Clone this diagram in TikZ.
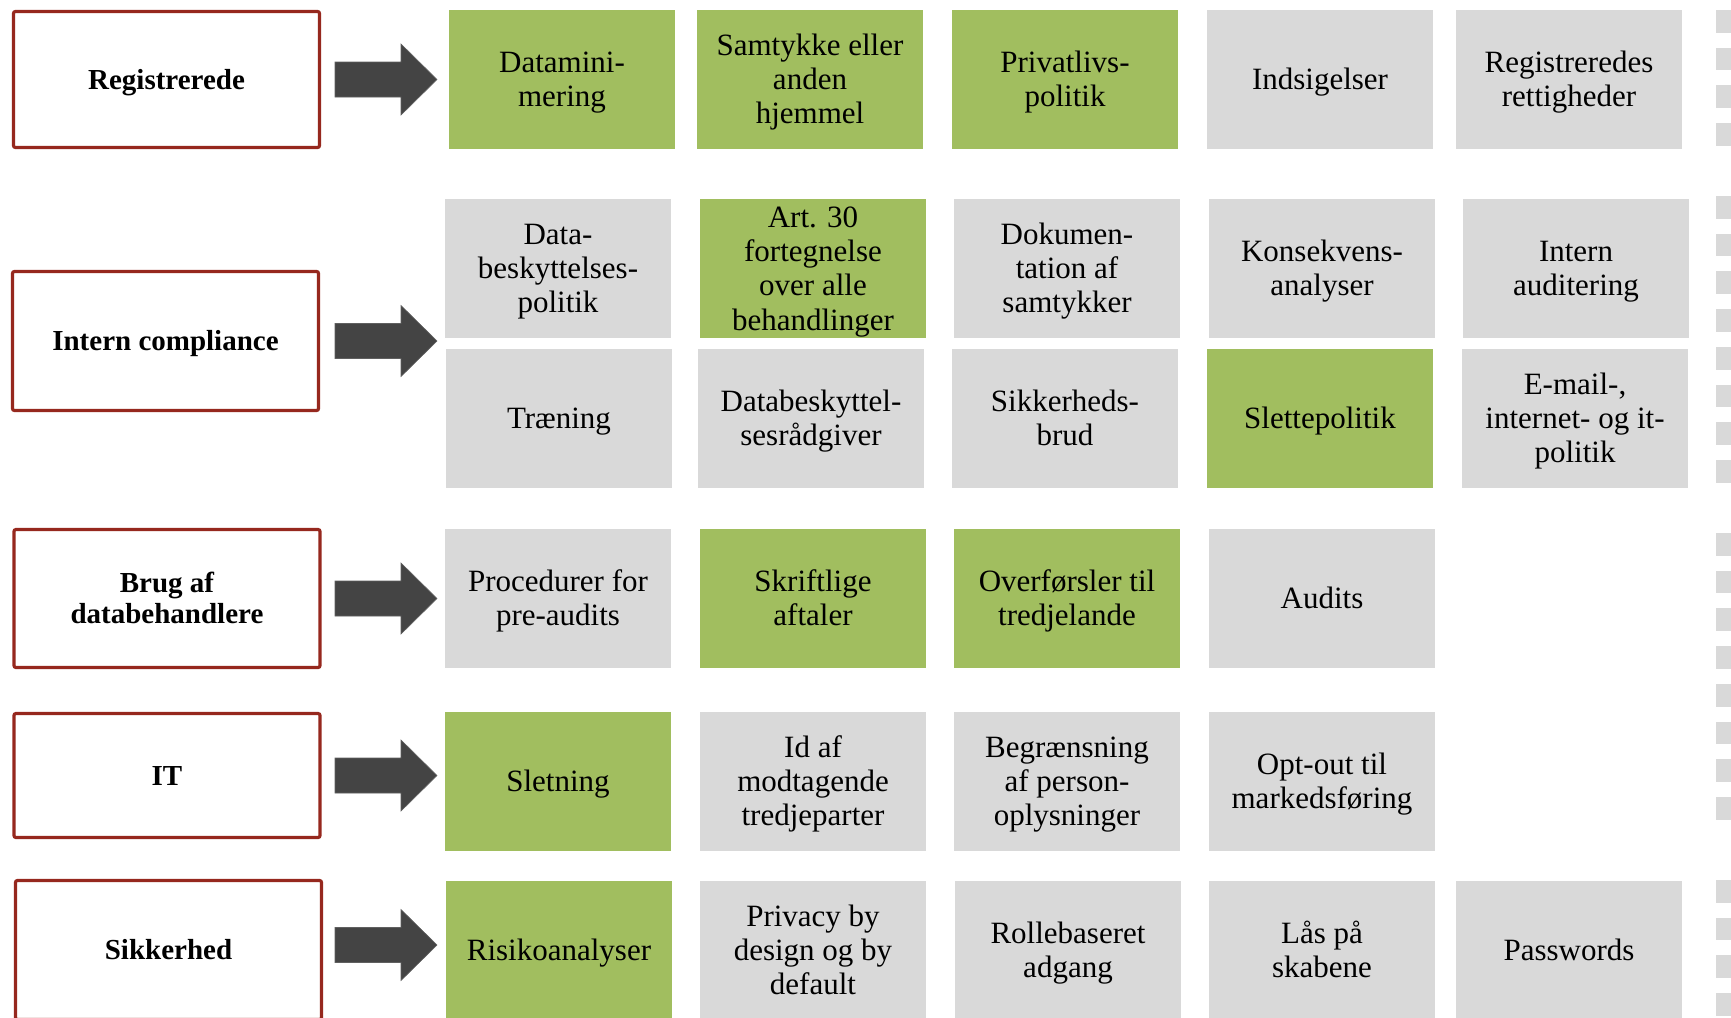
\documentclass[tikz,border=0pt]{standalone}
\usepackage{fontspec}
\setmainfont{Liberation Serif}
\usepackage{tikz}
\usetikzlibrary{positioning}
\definecolor{cellgreen}{RGB}{161,190,95}
\definecolor{cellgray}{RGB}{217,217,217}
\definecolor{frameRed}{RGB}{150,40,30}
\definecolor{arrowGray}{RGB}{68,68,68}
% text block set a little lower than the middle, as in the slide
\newcommand{\celltext}[1]{\raisebox{0pt}[\dimexpr\height+1.7pt\relax][\dimexpr\depth-1.7pt\relax]{\begin{tabular}{@{}c@{}}#1\end{tabular}}}
\tikzset{
  cell/.style={anchor=north west, inner sep=0pt, outer sep=0pt, minimum width=113pt,
    minimum height=69.5pt, align=center, font=\fontsize{15.5}{17.1}\selectfont},
  area/.style={draw=frameRed, line width=1.6pt, rounded corners=1pt, fill=white,
    minimum width=153pt, inner sep=0pt, align=center,
    font=\bfseries\fontsize{14.5}{15.5}\selectfont},
  blockarrow/.style={fill=arrowGray, draw=arrowGray!85, line width=0.3pt}
}

\begin{document}
\begin{tikzpicture}[x=0.5pt, y=-0.5pt]
  \useasboundingbox (0,0) rectangle (1731,1018);
  \clip (0,0) rectangle (1731,1018);

  % Draw the areas on the left
  \node[area, minimum height=68pt]   (reg)   at (166.5,79.5)  {\celltext{Registrerede}};
  \node[area, minimum height=69.5pt] (intern) at (165.5,341)  {\celltext{Intern compliance}};
  \node[area, minimum height=69pt]   (brug)  at (167,598.5)   {\celltext{Brug af\\databehandlere}};
  \node[area, minimum height=62pt]   (it)    at (167,775.5)   {\celltext{IT}};
  \node[area, minimum height=69.5pt] (sik)   at (168.5,950)   {\celltext{Sikkerhed}};

  % Draw the block arrows
  \foreach \n/\yc in {reg/79.5, intern/341, brug/598.5, it/775.5, sik/945} {
    \coordinate (\n arr) at (335,\yc);
    \filldraw[blockarrow] (\n arr) ++(0,-17.5) -- ++(66,0) -- ++(0,-18) -- ++(36,35.5)
      -- ++(-36,35.5) -- ++(0,-18) -- ++(-66,0) -- cycle;
  }

  % Registrerede
  \foreach \x/\c/\t [count=\i] in {449/cellgreen/{Datamini-\\mering},
      697/cellgreen/{Samtykke eller\\anden\\hjemmel},
      952/cellgreen/{Privatlivs-\\politik},
      1207/cellgray/{Indsigelser},
      1456/cellgray/{Registreredes\\rettigheder}} {
    \node[cell, fill=\c] (reg\i) at (\x,10) {\celltext{\t}};
  }

  % Intern compliance, two rows
  \foreach \x/\c/\t [count=\i] in {445/cellgray/{Data-\\beskyttelses-\\politik},
      700/cellgreen/{Art. 30\\fortegnelse\\over alle\\behandlinger},
      954/cellgray/{Dokumen-\\tation af\\samtykker},
      1209/cellgray/{Konsekvens-\\analyser},
      1463/cellgray/{Intern\\auditering}} {
    \node[cell, fill=\c] (intA\i) at (\x,199) {\celltext{\t}};
  }
  \foreach \x/\c/\t [count=\i] in {446/cellgray/{Træning},
      698/cellgray/{Databeskyttel-\\sesrådgiver},
      952/cellgray/{Sikkerheds-\\brud},
      1207/cellgreen/{Slettepolitik},
      1462/cellgray/{E-mail-,\\internet- og it-\\politik}} {
    \node[cell, fill=\c] (intB\i) at (\x,349) {\celltext{\t}};
  }

  % Brug af databehandlere
  \foreach \x/\c/\t [count=\i] in {445/cellgray/{Procedurer for\\pre-audits},
      700/cellgreen/{Skriftlige\\aftaler},
      954/cellgreen/{Overførsler til\\tredjelande},
      1209/cellgray/{Audits}} {
    \node[cell, fill=\c] (brug\i) at (\x,529) {\celltext{\t}};
  }

  % IT
  \foreach \x/\c/\t [count=\i] in {445/cellgreen/{Sletning},
      700/cellgray/{Id af\\modtagende\\tredjeparter},
      954/cellgray/{Begrænsning\\af person-\\oplysninger},
      1209/cellgray/{Opt-out til\\markedsføring}} {
    \node[cell, fill=\c] (it\i) at (\x,712) {\celltext{\t}};
  }

  % Sikkerhed
  \foreach \x/\c/\t [count=\i] in {446/cellgreen/{Risikoanalyser},
      700/cellgray/{Privacy by\\design og by\\default},
      955/cellgray/{Rollebaseret\\adgang},
      1209/cellgray/{Lås på\\skabene},
      1456/cellgray/{Passwords}} {
    \node[cell, fill=\c] (sik\i) at (\x,881) {\celltext{\t}};
  }

  % Strip of small squares on the right edge
  \foreach \s/\m in {10/4, 196/8, 533/8, 880/4} {
    \foreach \k in {1,...,\m} {
      \fill[cellgray] (1716,{\s+(\k-1)*37.7}) rectangle ++(15,22.7);
    }
  }
\end{tikzpicture}
\end{document}
